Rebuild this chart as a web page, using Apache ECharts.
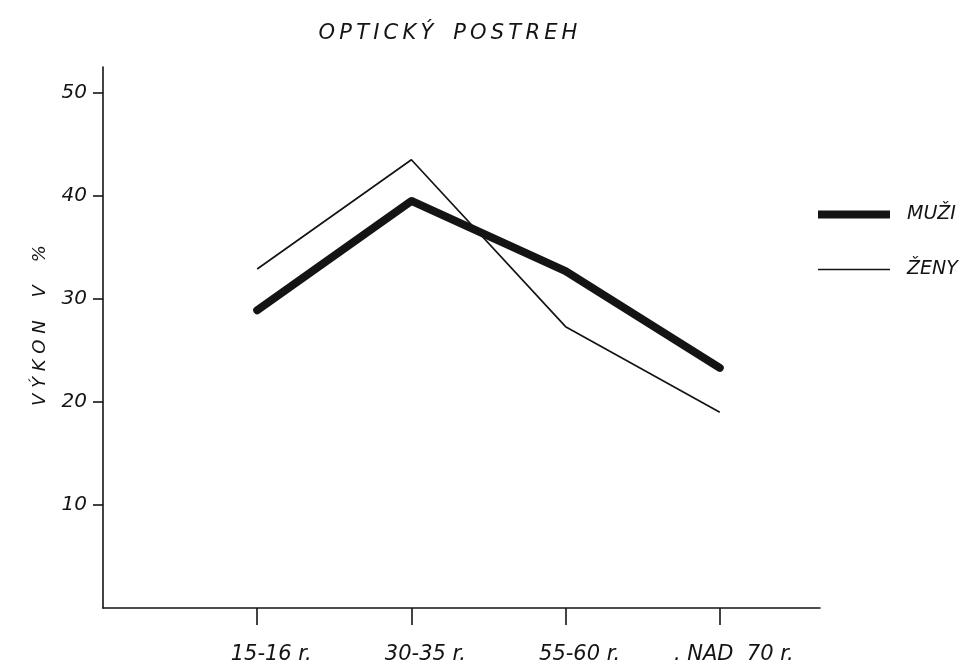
<!DOCTYPE html>
<html lang="sk">
<head>
    <meta charset="UTF-8">
    <title>Optický postreh</title>
    <script src="https://cdn.jsdelivr.net/npm/echarts@6/dist/echarts.min.js"></script>
    <style>
        * { margin: 0; padding: 0 }
        html, body { width: 100%; height: 100%; background: #fff; }
        #main { width: 971px; height: 667px; }
    </style>
</head>
<body>
<div id="main"></div>
<script type="text/javascript">
    // vekove skupiny a hodnoty (vykon v %)
    var categories = ['15-16 r.', '30-35 r.', '55-60 r.', '. NAD  70 r.'];
    var muzi = [28.9, 39.5, 32.7, 23.3];
    var zeny = [32.9, 43.5, 27.3, 19.0];
    var yTicks = [10, 20, 30, 40, 50];

    var ink = '#141414';
    var font = 'DejaVu Sans';
    var ts = '\u2009'; // tenka medzera medzi pismenami

    function toPoints(arr) {
        return arr.map(function (v, i) { return [i + 1, v]; });
    }

    function spaced(s) {
        return s.split('').join(ts);
    }

    var chart = echarts.init(document.getElementById('main'));
    chart.setOption({
        animation: false,
        backgroundColor: '#fff',
        title: {
            text: spaced('OPTICKÝ') + '   ' + spaced('POSTREH'),
            left: 443,
            textAlign: 'center',
            top: 18,
            textStyle: { color: ink, fontFamily: font, fontStyle: 'italic', fontWeight: 'normal', fontSize: 21 }
        },
        legend: [
            {
                orient: 'vertical',
                left: 813,
                top: 200,
                icon: 'rect',
                itemWidth: 72,
                itemHeight: 8,
                itemStyle: { color: ink },
                textStyle: { color: ink, fontFamily: font, fontStyle: 'italic', fontSize: 19, padding: [0, 0, 0, 12] },
                data: ['MUŽI']
            },
            {
                orient: 'vertical',
                left: 813,
                top: 255,
                icon: 'rect',
                itemWidth: 72,
                itemHeight: 1.6,
                itemStyle: { color: ink },
                textStyle: { color: ink, fontFamily: font, fontStyle: 'italic', fontSize: 19, padding: [0, 0, 14, 12] },
                data: ['ŽENY']
            }
        ],
        grid: { left: 103, right: 151, top: 67, bottom: 59 },
        xAxis: {
            type: 'value',
            min: 0,
            max: 4.65,
            splitLine: { show: false },
            axisLine: { lineStyle: { color: ink, width: 1.6 } },
            axisTick: { length: 17, lineStyle: { color: ink, width: 1.6 }, customValues: [1, 2, 3, 4] },
            axisLabel: {
                customValues: [1, 2, 3, 4],
                margin: 36,
                padding: [0, 0, 0, 28],
                color: ink, fontFamily: font, fontStyle: 'italic', fontSize: 21,
                formatter: function (v) { return categories[Math.round(v) - 1] || ''; }
            }
        },
        yAxis: {
            type: 'value',
            min: 0,
            max: 52.5,
            name: 'V Ý K O N    V    %',
            nameLocation: 'middle',
            nameRotate: 90,
            nameGap: 54,
            nameTextStyle: { color: ink, fontFamily: font, fontStyle: 'italic', fontSize: 18, padding: [0, 0, 0, 24] },
            splitLine: { show: false },
            axisLine: { show: true, lineStyle: { color: ink, width: 1.6 } },
            axisTick: { show: true, length: 10, lineStyle: { color: ink, width: 1.6 }, customValues: yTicks },
            axisLabel: {
                customValues: yTicks,
                margin: 16,
                color: ink, fontFamily: font, fontStyle: 'italic', fontSize: 20
            }
        },
        series: [
            {
                name: 'MUŽI',
                type: 'line',
                data: toPoints(muzi),
                symbol: 'none',
                color: ink,
                lineStyle: { color: ink, width: 8, cap: 'round', join: 'round' }
            },
            {
                name: 'ŽENY',
                type: 'line',
                data: toPoints(zeny),
                symbol: 'none',
                color: ink,
                lineStyle: { color: ink, width: 1.7 }
            }
        ]
    });
</script>
</body>
</html>
